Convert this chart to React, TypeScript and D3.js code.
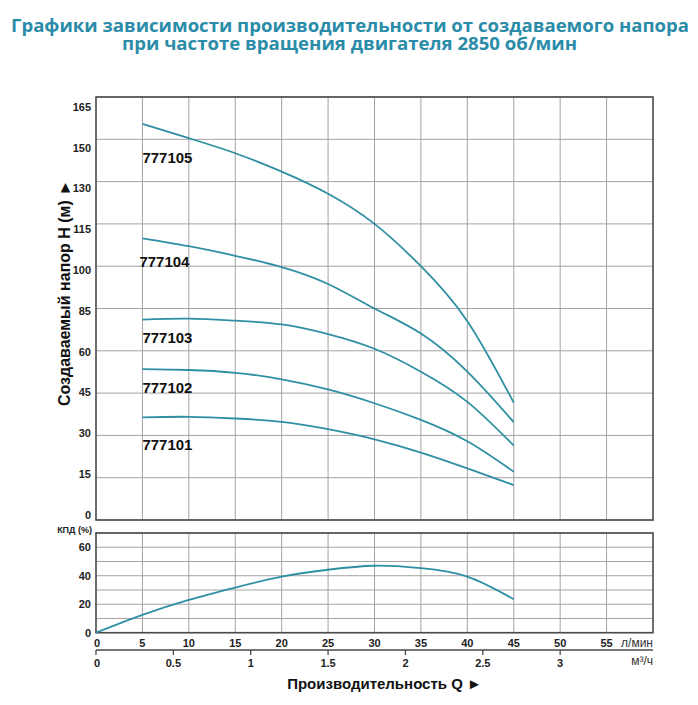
import * as d3 from 'd3'

// pump curves, Q in l/min, H in m
const flow = [5, 10, 15, 20, 25, 30, 35, 40, 45]
const head777105 = [155.5, 150.4, 143.4, 134.7, 125.7, 115, 100, 77.5, 41.6]
const head777104 = [109.9, 107.1, 103.7, 99.7, 93.7, 85, 70.2, 52.6, 34.7]
const head777103 = [78.4, 79, 77.8, 75.6, 69.9, 61.2, 52.6, 41.9, 26.4]
const head777102 = [53.5, 53.2, 52.2, 49.9, 46.3, 41.4, 35.5, 27.9, 17.1]
const head777101 = [36.4, 36.6, 36.0, 34.8, 32.2, 28.6, 23.9, 18.3, 12.4]
const models = ['777105', '777104', '777103', '777102', '777101']

const effFlow = [0, 5, 10, 15, 20, 25, 30, 35, 40, 45]
const efficiency = [0, 12.5, 23, 31.7, 39.4, 44.2, 47, 45.3, 39.4, 23.5]

// axis ticks
const headTicks = [0, 15, 30, 45, 60, 85, 100, 115, 130, 150, 165]
const effTicks = [0, 20, 40, 60]
const effGrid = [0, 10, 20, 30, 40, 50, 60, 70]
const flowTicks = [0, 5, 10, 15, 20, 25, 30, 35, 40, 45, 50, 55]
const m3Ticks = [0, 0.5, 1, 1.5, 2, 2.5, 3]

const TEAL = '#2f8fa3'
const GRID = '#a3a3a3'
const FRAME = '#4a4a4a'
const FONT = '"Liberation Sans", Arial, sans-serif'

export default function App() {
  const left = 96
  const right = 653
  const mainTop = 97
  const mainBottom = 520
  const effTop = 533
  const effBottom = 632.7

  const x = d3.scaleLinear().domain([0, 60]).range([left, right])
  // head axis has equal spacing with uneven labels, so piecewise scale
  const y = d3.scaleLinear()
    .domain(headTicks)
    .range(headTicks.map((_, i) => mainBottom - i * (mainBottom - mainTop) / (headTicks.length - 1)))
  // labels drift slightly from the gridlines in the original
  const yLabel = d3.scaleLinear().domain([0, headTicks.length - 1]).range([515, 107])
  const yEff = d3.scaleLinear().domain([0, 70]).range([effBottom, effTop])
  const xM3 = d3.scaleLinear().domain([0, 60 / 16.6667]).range([left, right])

  const line = d3.line<number>()
    .x((_, i) => x(flow[i]))
    .y(d => y(d))
    .curve(d3.curveNatural)

  const effLine = d3.line<number>()
    .x((_, i) => x(effFlow[i]))
    .y(d => yEff(d))
    .curve(d3.curveNatural)

  const series = [head777105, head777104, head777103, head777102, head777101]
  const labelY = [162.7, 267, 343.3, 393.3, 450]
  const labelDx = [0, -3, 0, 0, 0]

  const vGrid = flowTicks.filter(t => t > 0)

  return (
    <svg width={698} height={705} style={{ position: 'absolute', left: 0, top: 0, background: '#fff' }}>
      <text x={350} y={32} textAnchor="middle" fontFamily='"Open Sans", sans-serif' fontWeight="bold"
        fontSize={17.5} fill="#2a8ca8" textLength={678} lengthAdjust="spacingAndGlyphs">
        Графики зависимости производительности от создаваемого напора
      </text>
      <text x={349.5} y={49.5} textAnchor="middle" fontFamily='"Open Sans", sans-serif' fontWeight="bold"
        fontSize={17.5} fill="#2a8ca8" textLength={455} lengthAdjust="spacingAndGlyphs">
        при частоте вращения двигателя 2850 об/мин
      </text>

      {/* main head chart */}
      <g>
        {headTicks.map(t => (
          <line key={'h' + t} x1={left} x2={right} y1={y(t)} y2={y(t)} stroke={GRID} strokeWidth={1} />
        ))}
        {vGrid.map(t => (
          <line key={'v' + t} x1={x(t)} x2={x(t)} y1={mainTop} y2={mainBottom} stroke={GRID} strokeWidth={1} />
        ))}
        <rect x={left} y={mainTop} width={right - left} height={mainBottom - mainTop}
          fill="none" stroke={FRAME} strokeWidth={1.6} />
        {headTicks.map((t, i) => (
          <text key={'hl' + t} x={91} y={yLabel(i)} dy="0.35em" textAnchor="end"
            fontFamily={FONT} fontWeight="bold" fontSize={11} fill="#222">{t}</text>
        ))}
        {series.map((s, i) => (
          <path key={models[i]} d={line(s) ?? ''} fill="none" stroke={TEAL} strokeWidth={1.8} />
        ))}
        {models.map((m, i) => (
          <text key={'ml' + m} x={x(flow[0]) + labelDx[i]} y={labelY[i]} fontFamily={FONT}
            fontWeight="bold" fontSize={15} fill="#111">{m}</text>
        ))}
        <text transform={`translate(70,293) rotate(-90)`} textAnchor="middle" fontFamily={FONT}
          fontWeight="bold" fontSize={16} fill="#111">Создаваемый напор H (м) ►</text>
      </g>

      {/* efficiency chart */}
      <g>
        {effGrid.map(t => (
          <line key={'eg' + t} x1={left} x2={right} y1={yEff(t)} y2={yEff(t)} stroke={GRID} strokeWidth={1} />
        ))}
        {vGrid.map(t => (
          <line key={'ev' + t} x1={x(t)} x2={x(t)} y1={effTop} y2={effBottom} stroke={GRID} strokeWidth={1} />
        ))}
        <rect x={left} y={effTop} width={right - left} height={effBottom - effTop}
          fill="none" stroke={FRAME} strokeWidth={1.6} />
        {effTicks.map(t => (
          <text key={'el' + t} x={91} y={yEff(t)} dy="0.35em" textAnchor="end"
            fontFamily={FONT} fontWeight="bold" fontSize={11} fill="#222">{t}</text>
        ))}
        <text x={92} y={533} textAnchor="end" fontFamily={FONT} fontWeight="bold" fontSize={9} fill="#222">
          КПД (%)
        </text>
        <path d={effLine(efficiency) ?? ''} fill="none" stroke={TEAL} strokeWidth={1.8} />
      </g>

      {/* flow axes */}
      <g>
        {flowTicks.map(t => (
          <text key={'fl' + t} x={x(t) + (t === 0 ? 1 : 0)} y={643} dy="0.35em" textAnchor="middle"
            fontFamily={FONT} fontWeight="bold" fontSize={11} fill="#222">{t}</text>
        ))}
        <text x={right} y={643} dy="0.35em" textAnchor="end" fontFamily={FONT} fontSize={12} fill="#333">л/мин</text>
        <line x1={left} x2={right} y1={650} y2={650} stroke={FRAME} strokeWidth={1.3} />
        {m3Ticks.map(t => (
          <g key={'m3' + t}>
            <line x1={xM3(t)} x2={xM3(t)} y1={650} y2={655} stroke={FRAME} strokeWidth={1.3} />
            <text x={xM3(t) + (t === 0 ? 1 : 0)} y={663.5} dy="0.35em" textAnchor="middle"
              fontFamily={FONT} fontWeight="bold" fontSize={11} fill="#222">{t}</text>
          </g>
        ))}
        <text x={right} y={661} dy="0.35em" textAnchor="end" fontFamily={FONT} fontSize={12} fill="#333">
          м³/ч
        </text>
        <text x={384.5} y={689} textAnchor="middle" fontFamily={FONT} fontWeight="bold" fontSize={15} fill="#111">
          Производительность Q ►
        </text>
      </g>
    </svg>
  )
}
